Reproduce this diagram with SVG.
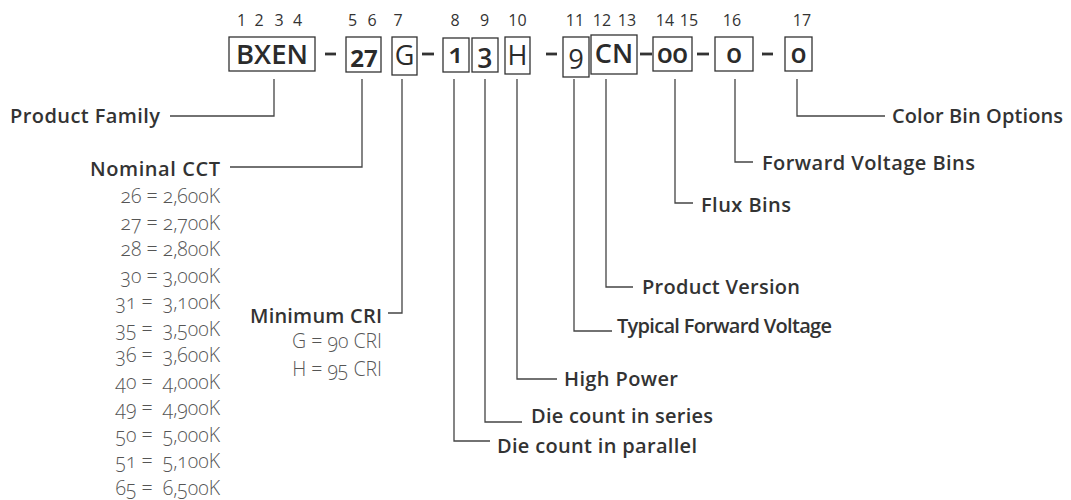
<svg xmlns="http://www.w3.org/2000/svg" width="1071" height="500" viewBox="0 0 1071 500">
<style>
  .bg{fill:#ffffff}
  .box{fill:none;stroke:#333;stroke-width:1.3}
  .bt{font-family:"Open Sans","Liberation Sans",sans-serif;font-size:27px;font-weight:600;fill:#2b2b2b;text-anchor:middle}
  .on{font-variant-numeric:oldstyle-nums;font-feature-settings:"onum" 1}
  .dash{stroke:#333;stroke-width:2.8}
  .idx{font-family:"Open Sans","Liberation Sans",sans-serif;font-size:16px;fill:#333;text-anchor:middle}
  .lbl{font-family:"Open Sans","Liberation Sans",sans-serif;font-size:20px;font-weight:600;fill:#333}
  .val{font-family:"Open Sans","Liberation Sans",sans-serif;font-size:19.5px;font-weight:300;fill:#555;text-anchor:end;font-variant-numeric:oldstyle-nums;font-feature-settings:"onum" 1}
  .conn path{fill:none;stroke:#444;stroke-width:1.3}
</style>
<rect class="bg" x="0" y="0" width="1071" height="500"/>

<g id="indices">
  <text class="idx" x="241.5" y="26">1</text>
  <text class="idx" x="259" y="26">2</text>
  <text class="idx" x="279" y="26">3</text>
  <text class="idx" x="297.5" y="26">4</text>
  <text class="idx" x="352.5" y="26">5</text>
  <text class="idx" x="372" y="26">6</text>
  <text class="idx" x="398" y="26">7</text>
  <text class="idx" x="455" y="26">8</text>
  <text class="idx" x="484.5" y="26">9</text>
  <text class="idx" x="517.5" y="26">10</text>
  <text class="idx" x="575" y="26">11</text>
  <text class="idx" x="602" y="26">12</text>
  <text class="idx" x="627" y="26">13</text>
  <text class="idx" x="665" y="26">14</text>
  <text class="idx" x="689" y="26">15</text>
  <text class="idx" x="732" y="26">16</text>
  <text class="idx" x="802" y="26">17</text>
</g>

<g id="part-number">
  <g id="box-bxen"><rect class="box" x="229" y="37" width="86" height="34"/><text class="bt" x="272" y="63.5" textLength="72" lengthAdjust="spacingAndGlyphs">BXEN</text></g>
  <g id="box-27"><rect class="box" x="346" y="37" width="35" height="35"/><text class="bt" x="364" y="67" style="font-size:24px;font-weight:700">27</text></g>
  <g id="box-g"><rect class="box" x="392" y="37" width="25" height="38"/><text class="bt" x="404.5" y="64.5" style="font-weight:400">G</text></g>
  <g id="box-1"><rect class="box" x="443" y="38" width="26" height="34"/><text class="bt on" x="456" y="63">1</text></g>
  <g id="box-3"><rect class="box" x="472" y="38" width="26" height="34"/><text class="bt on" x="485" y="63">3</text></g>
  <g id="box-h"><rect class="box" x="505" y="37" width="25" height="37"/><text class="bt" x="517.5" y="64.5" style="font-weight:400">H</text></g>
  <g id="box-9"><rect class="box" x="563" y="37" width="26" height="40"/><text class="bt on" x="576" y="64" style="font-weight:400">9</text></g>
  <g id="box-cn"><rect class="box" x="591" y="35" width="46" height="39"/><text class="bt" x="614" y="62.5">CN</text></g>
  <g id="box-00"><rect class="box" x="653" y="37" width="39" height="34"/><text class="bt on" x="672.5" y="63">00</text></g>
  <g id="box-0a"><rect class="box" x="715" y="37" width="38" height="34"/><text class="bt on" x="734" y="63">0</text></g>
  <g id="box-0b"><rect class="box" x="785" y="37" width="27" height="34"/><text class="bt on" x="798.5" y="63">0</text></g>
  <line class="dash" x1="325" y1="54" x2="336" y2="54"/>
  <line class="dash" x1="422" y1="54" x2="434" y2="54"/>
  <line class="dash" x1="546" y1="54" x2="557" y2="54"/>
  <line class="dash" x1="640" y1="54" x2="652" y2="54"/>
  <line class="dash" x1="697" y1="54" x2="709" y2="54"/>
  <line class="dash" x1="762" y1="54" x2="773" y2="54"/>
</g>

<g id="connectors" class="conn">
  <path d="M274,79 V116 H170"/>
  <path d="M362,79 V167 H230"/>
  <path d="M402,79 V313 H388"/>
  <path d="M454,79 V441 H490"/>
  <path d="M485,79 V422 H522"/>
  <path d="M517,79 V379 H557"/>
  <path d="M574,79 V331 H612"/>
  <path d="M606,79 V287 H633"/>
  <path d="M675,79 V203 H693"/>
  <path d="M735,79 V162 H753"/>
  <path d="M797,79 V116 H885"/>
</g>

<g id="node-product-family"><text class="lbl" x="10" y="122.5" textLength="150">Product Family</text></g>

<g id="node-nominal-cct">
  <text class="lbl" x="90" y="176" textLength="130">Nominal CCT</text>
  <text class="val" x="220" y="203">26 = 2,600K</text>
  <text class="val" x="220" y="229.5">27 = 2,700K</text>
  <text class="val" x="220" y="256">28 = 2,800K</text>
  <text class="val" x="220" y="282.5">30 = 3,000K</text>
  <text class="val" x="220" y="309" xml:space="preserve">31 =  3,100K</text>
  <text class="val" x="220" y="335.5" xml:space="preserve">35 =  3,500K</text>
  <text class="val" x="220" y="362" xml:space="preserve">36 =  3,600K</text>
  <text class="val" x="220" y="388.5" xml:space="preserve">40 =  4,000K</text>
  <text class="val" x="220" y="415" xml:space="preserve">49 =  4,900K</text>
  <text class="val" x="220" y="441.5" xml:space="preserve">50 =  5,000K</text>
  <text class="val" x="220" y="468" xml:space="preserve">51 =  5,100K</text>
  <text class="val" x="220" y="494.5" xml:space="preserve">65 =  6,500K</text>
</g>

<g id="node-minimum-cri">
  <text class="lbl" x="250" y="323" textLength="132">Minimum CRI</text>
  <text class="val" x="382" y="348">G = 90 CRI</text>
  <text class="val" x="382" y="376">H = 95 CRI</text>
</g>

<g id="node-die-parallel"><text class="lbl" x="497" y="453" textLength="200">Die count in parallel</text></g>
<g id="node-die-series"><text class="lbl" x="531" y="423" textLength="182">Die count in series</text></g>
<g id="node-high-power"><text class="lbl" x="564" y="386" textLength="114">High Power</text></g>
<g id="node-typical-fv"><text class="lbl" x="617" y="333" textLength="215">Typical Forward Voltage</text></g>
<g id="node-product-version"><text class="lbl" x="642" y="294" textLength="158">Product Version</text></g>
<g id="node-flux-bins"><text class="lbl" x="701" y="212" textLength="90">Flux Bins</text></g>
<g id="node-fv-bins"><text class="lbl" x="762" y="170" textLength="213">Forward Voltage Bins</text></g>
<g id="node-color-bin"><text class="lbl" x="892" y="123" textLength="171">Color Bin Options</text></g>
</svg>
